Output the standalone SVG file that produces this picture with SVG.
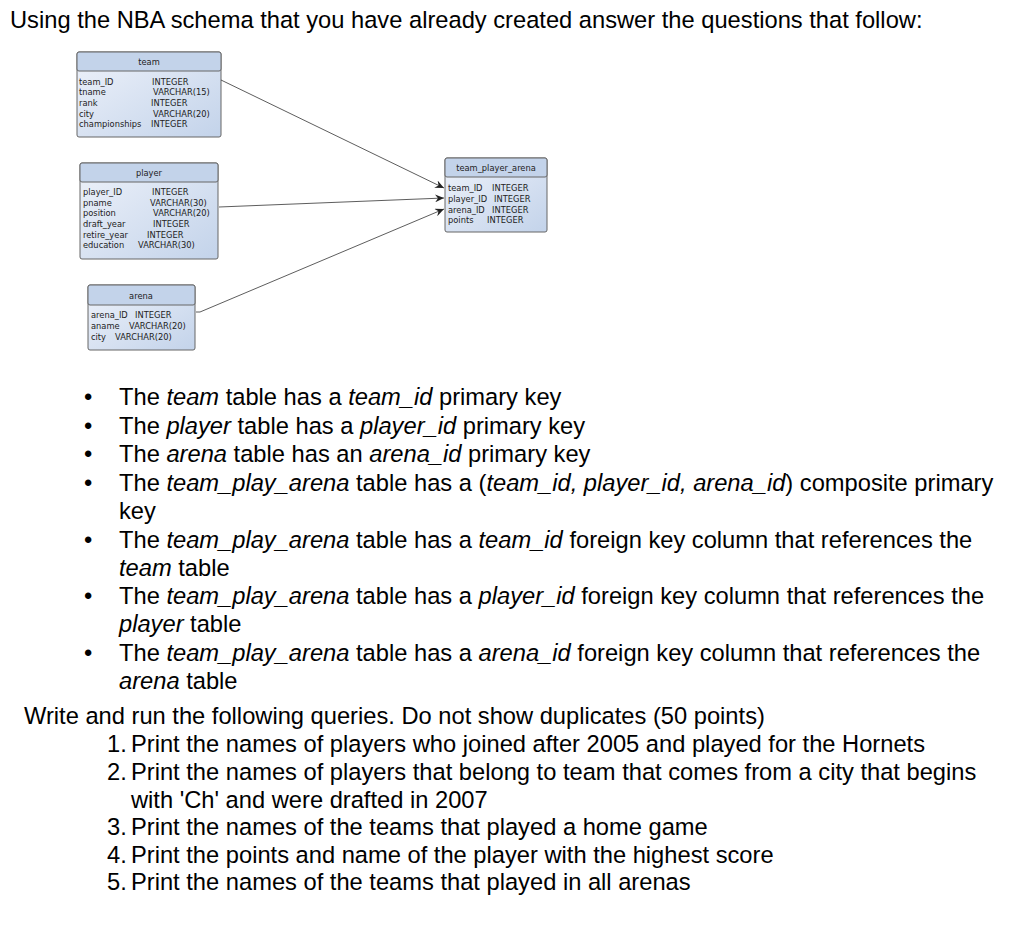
<svg xmlns="http://www.w3.org/2000/svg" width="1024" height="925" viewBox="0 0 1024 925">
<defs>
<linearGradient id="g" x1="0" y1="0" x2="1" y2="1"><stop offset="0" stop-color="#eef2fa"/><stop offset="1" stop-color="#c3d3ea"/></linearGradient>
<marker id="ar" markerWidth="10" markerHeight="8" refX="9" refY="4" orient="auto" markerUnits="userSpaceOnUse"><path d="M0,0 L9,4 L0,8 L3,4 Z" fill="#222"/></marker>
</defs>
<style>
.box{fill:url(#g);stroke:#666;stroke-width:1}
.hd{fill:#c3d3ea;stroke:#666;stroke-width:1}
.s{font-family:"DejaVu Sans",sans-serif;font-size:8.3px;fill:#222}
.t{font-family:"Liberation Sans",Arial,sans-serif;font-size:23.7px;fill:#000}
.c{stroke:#333;stroke-width:0.8;fill:none;marker-end:url(#ar)}
</style>
<rect width="1024" height="925" fill="#fff"/>
<text class="t" x="10" y="28">Using the NBA schema that you have already created answer the questions that follow:</text>
<g id="team">
<rect class="box" x="77" y="52" width="144" height="85" rx="2"/>
<rect class="hd" x="77" y="52" width="144" height="19" rx="2"/>
<text class="s" x="149" y="65" text-anchor="middle">team</text>
<text class="s" x="79" y="85">team_ID</text><text class="s" x="152" y="85">INTEGER</text>
<text class="s" x="79" y="95">tname</text><text class="s" x="153" y="95">VARCHAR(15)</text>
<text class="s" x="79" y="106">rank</text><text class="s" x="151" y="106">INTEGER</text>
<text class="s" x="79" y="117">city</text><text class="s" x="153" y="117">VARCHAR(20)</text>
<text class="s" x="79" y="127">championships</text><text class="s" x="151" y="127">INTEGER</text>
</g>
<g id="player">
<rect class="box" x="80" y="163" width="138" height="96" rx="2"/>
<rect class="hd" x="80" y="163" width="138" height="19" rx="2"/>
<text class="s" x="149" y="176" text-anchor="middle">player</text>
<text class="s" x="83" y="195">player_ID</text><text class="s" x="152" y="195">INTEGER</text>
<text class="s" x="83" y="206">pname</text><text class="s" x="150" y="206">VARCHAR(30)</text>
<text class="s" x="83" y="216">position</text><text class="s" x="153" y="216">VARCHAR(20)</text>
<text class="s" x="83" y="227">draft_year</text><text class="s" x="153" y="227">INTEGER</text>
<text class="s" x="83" y="238">retire_year</text><text class="s" x="147" y="238">INTEGER</text>
<text class="s" x="83" y="248">education</text><text class="s" x="138" y="248">VARCHAR(30)</text>
</g>
<g id="arena">
<rect class="box" x="88" y="285" width="107" height="65" rx="2"/>
<rect class="hd" x="88" y="285" width="107" height="20" rx="2"/>
<text class="s" x="141" y="299" text-anchor="middle">arena</text>
<text class="s" x="91" y="318">arena_ID</text><text class="s" x="135" y="318">INTEGER</text>
<text class="s" x="91" y="329">aname</text><text class="s" x="129" y="329">VARCHAR(20)</text>
<text class="s" x="91" y="340">city</text><text class="s" x="115" y="340">VARCHAR(20)</text>
</g>
<g id="team_player_arena">
<rect class="box" x="445" y="158" width="102" height="74" rx="2"/>
<rect class="hd" x="445" y="158" width="102" height="19" rx="2"/>
<text class="s" x="496" y="171" text-anchor="middle">team_player_arena</text>
<text class="s" x="448" y="191">team_ID</text><text class="s" x="492" y="191">INTEGER</text>
<text class="s" x="448" y="202">player_ID</text><text class="s" x="494" y="202">INTEGER</text>
<text class="s" x="448" y="213">arena_ID</text><text class="s" x="492" y="213">INTEGER</text>
<text class="s" x="448" y="223">points</text><text class="s" x="487" y="223">INTEGER</text>
</g>
<g id="connectors">
<path class="c" d="M221,80 L444,188"/>
<path class="c" d="M219,207 L444,198"/>
<path class="c" d="M196,312 L200,312 L444,209"/>
</g>
<g class="t">
<text x="84" y="405">•</text><text x="119" y="405">The <tspan font-style="italic">team</tspan> table has a <tspan font-style="italic">team_id</tspan> primary key</text>
<text x="84" y="434">•</text><text x="119" y="434">The <tspan font-style="italic">player</tspan> table has a <tspan font-style="italic">player_id</tspan> primary key</text>
<text x="84" y="462">•</text><text x="119" y="462">The <tspan font-style="italic">arena</tspan> table has an <tspan font-style="italic">arena_id</tspan> primary key</text>
<text x="84" y="491">•</text><text x="119" y="491">The <tspan font-style="italic">team_play_arena</tspan> table has a (<tspan font-style="italic">team_id, player_id, arena_id</tspan>) composite primary</text>
<text x="119" y="519">key</text>
<text x="84" y="548">•</text><text x="119" y="548">The <tspan font-style="italic">team_play_arena</tspan> table has a <tspan font-style="italic">team_id</tspan> foreign key column that references the</text>
<text x="119" y="576"><tspan font-style="italic">team</tspan> table</text>
<text x="84" y="604">•</text><text x="119" y="604">The <tspan font-style="italic">team_play_arena</tspan> table has a <tspan font-style="italic">player_id</tspan> foreign key column that references the</text>
<text x="119" y="632"><tspan font-style="italic">player</tspan> table</text>
<text x="84" y="661">•</text><text x="119" y="661">The <tspan font-style="italic">team_play_arena</tspan> table has a <tspan font-style="italic">arena_id</tspan> foreign key column that references the</text>
<text x="119" y="689"><tspan font-style="italic">arena</tspan> table</text>
<text x="24" y="724">Write and run the following queries. Do not show duplicates (50 points)</text>
<text x="107" y="752">1.</text><text x="131" y="752">Print the names of players who joined after 2005 and played for the Hornets</text>
<text x="107" y="780">2.</text><text x="131" y="780">Print the names of players that belong to team that comes from a city that begins</text>
<text x="131" y="808">with 'Ch' and were drafted in 2007</text>
<text x="107" y="835">3.</text><text x="131" y="835">Print the names of the teams that played a home game</text>
<text x="107" y="863">4.</text><text x="131" y="863">Print the points and name of the player with the highest score</text>
<text x="107" y="890">5.</text><text x="131" y="890">Print the names of the teams that played in all arenas</text>
</g>
</svg>
